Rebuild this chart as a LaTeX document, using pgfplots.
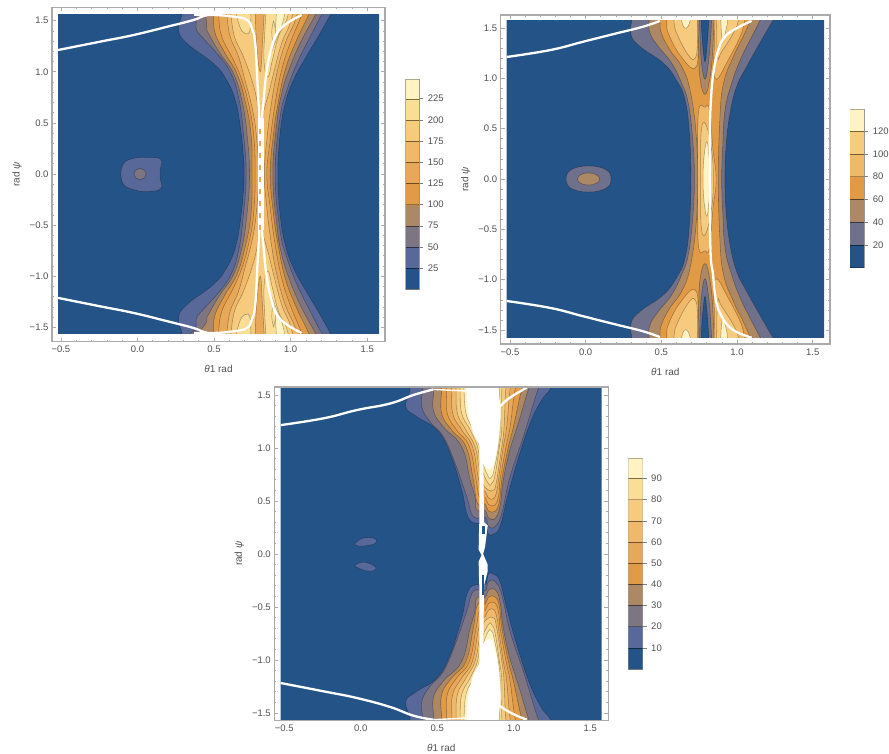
\documentclass[border=0pt]{standalone}
\usepackage{fontspec}
\setmainfont{Liberation Sans}
\usepackage{pgfplots}
\pgfplotsset{compat=1.18}
\definecolor{cA}{RGB}{36,84,135}
\definecolor{cB}{RGB}{88,104,152}
\definecolor{cC}{RGB}{125,117,130}
\definecolor{cD}{RGB}{172,136,100}
\definecolor{cE}{RGB}{225,155,70}
\definecolor{cF}{RGB}{232,168,90}
\definecolor{cG}{RGB}{240,185,105}
\definecolor{cH}{RGB}{246,203,125}
\definecolor{cI}{RGB}{251,222,150}
\definecolor{cJ}{RGB}{255,243,195}
\definecolor{cBb}{RGB}{110,112,140}
\definecolor{frameC}{RGB}{170,170,170}
\definecolor{txtC}{RGB}{80,80,80}
\pgfplotsset{
 /pgf/number format/assume math mode=true,
 frameax/.style={scale only axis,anchor=south west,axis line style={draw=frameC,line width=1.1pt},
   tick align=inside,major tick length=4pt,minor tick length=2pt,minor tick num=4,
   tick style={draw=frameC,line width=.6pt},
   tick label style={text=txtC,font=\fontsize{9.5}{11}\selectfont},
   xtick={-0.5,0,0.5,1,1.5},xticklabels={−0.5,0.0,0.5,1.0,1.5},
   ytick={-1.5,-1,-0.5,0,0.5,1,1.5},yticklabels={−1.5,−1.0,−0.5,0.0,0.5,1.0,1.5},
   xticklabel style={yshift=-1pt},
   every axis x label/.style={at={(axis description cs:0.5,0)},anchor=center,yshift=-27.5pt,text=txtC,font=\fontsize{10}{12}\selectfont},
   every axis y label/.style={at={(axis description cs:0,0.5)},anchor=center,rotate=90,yshift=35pt,text=txtC,font=\fontsize{10}{12}\selectfont},
   xlabel={{\itshape θ}1 rad},ylabel={rad {\itshape ψ}}},
 innerax/.style={scale only axis,anchor=south west,hide axis},
 barax/.style={scale only axis,anchor=south west,xmin=0,xmax=1,xtick=\empty,
   ytick pos=right,tick align=outside,major tick length=4pt,
   axis line style={draw=frameC,line width=.9pt},tick style={draw=gray,line width=.5pt},
   tick label style={text=txtC,font=\fontsize{9.5}{11}\selectfont},
   yticklabel style={xshift=1pt,/pgf/number format/assume math mode=true}},
 lvl/.style={smooth,tension=0.75,draw=black,draw opacity=.32,line width=.55pt},
 wht/.style={smooth,tension=0.75,draw=white,line width=2.3pt},
}
\newcommand{\lev}[2]{\addplot[lvl,fill=#1] coordinates {#2};}
\newcommand{\bnd}[3]{\addplot[draw=black,draw opacity=.3,line width=.4pt,fill=#1] coordinates {(0,#2)(1,#2)(1,#3)(0,#3)};}
\begin{document}
\begin{tikzpicture}
\path[use as bounding box] (0,0) rectangle (889pt,753pt);
%% ---------- panel 1 ----------
\begin{axis}[frameax,at={(52pt,411.3pt)},width=333pt,height=334.2pt,xmin=-0.558,xmax=1.616,ymin=-1.641,ymax=1.629]
\end{axis}
\begin{axis}[innerax,at={(58pt,419pt)},width=321pt,height=319pt,xmin=-0.52,xmax=1.575,ymin=-1.566,ymax=1.556]
\addplot[fill=cA,draw=none] coordinates {(-1,-2)(2,-2)(2,2)(-1,2)};
\lev{cB}{(.31,1.7)(.29,1.56)(.267,1.41)(.32,1.28)(.495,1.08)(.58,.92)(.637,.72)(.67,.46)(.69,.17)(.695,0)(.69,-.17)(.67,-.46)(.637,-.72)(.58,-.92)(.495,-1.08)(.32,-1.28)(.267,-1.41)(.29,-1.56)(.31,-1.7)(1.31,-1.7)(1.257,-1.556)(1.19,-1.376)(1.10,-1.148)(1.017,-.92)(.963,-.69)(.93,-.40)(.915,0)(.93,.40)(.963,.69)(1.017,.92)(1.10,1.148)(1.19,1.376)(1.257,1.556)(1.31,1.7)}
\lev{cC}{(.37,1.7)(.382,1.5)(.382,1.425)(.408,1.36)(.517,1.18)(.604,1.0)(.658,.757)(.69,.4)(.708,0)(.69,-.4)(.658,-.757)(.604,-1.0)(.517,-1.18)(.408,-1.36)(.382,-1.425)(.382,-1.5)(.37,-1.7)(1.26,-1.7)(1.2,-1.556)(1.126,-1.344)(1.04,-1.083)(.974,-.82)(.93,-.56)(.897,0)(.93,.56)(.974,.82)(1.04,1.083)(1.126,1.344)(1.2,1.556)(1.26,1.7)}
\lev{cD}{(.44,1.7)(.451,1.44)(.462,1.376)(.538,1.18)(.625,.985)(.68,.724)(.713,.4)(.73,0)(.713,-.4)(.68,-.724)(.625,-.985)(.538,-1.18)(.462,-1.376)(.451,-1.44)(.44,-1.7)(1.2,-1.7)(1.159,-1.556)(1.07,-1.31)(.995,-1.05)(.94,-.79)(.908,-.5)(.882,0)(.908,.5)(.94,.79)(.995,1.05)(1.07,1.31)(1.159,1.556)(1.2,1.7)}
\lev{cE}{(.49,1.7)(.495,1.55)(.506,1.376)(.571,1.18)(.647,.985)(.70,.724)(.739,.4)(.747,0)(.739,-.4)(.70,-.724)(.647,-.985)(.571,-1.18)(.506,-1.376)(.495,-1.55)(.49,-1.7)(1.15,-1.7)(1.115,-1.556)(1.028,-1.28)(.963,-1.02)(.92,-.724)(.887,-.4)(.865,0)(.887,.4)(.92,.724)(.963,1.02)(1.028,1.28)(1.115,1.556)(1.15,1.7)}
\lev{cF}{(.52,1.7)(.528,1.55)(.549,1.344)(.625,1.115)(.68,.92)(.723,.69)(.756,.4)(.767,0)(.756,-.4)(.723,-.69)(.68,-.92)(.625,-1.115)(.549,-1.344)(.528,-1.55)(.52,-1.7)(1.10,-1.7)(1.07,-1.556)(.995,-1.28)(.94,-1.02)(.897,-.69)(.865,-.33)(.843,0)(.865,.33)(.897,.69)(.94,1.02)(.995,1.28)(1.07,1.556)(1.10,1.7)}
\lev{cG}{(.57,1.7)(.582,1.55)(.604,1.344)(.658,1.15)(.70,.92)(.745,.66)(.773,.4)(.789,0)(.773,-.4)(.745,-.66)(.70,-.92)(.658,-1.15)(.604,-1.344)(.582,-1.55)(.57,-1.7)(1.06,-1.7)(1.028,-1.5)(.963,-1.28)(.908,-.985)(.87,-.66)(.843,-.33)(.826,0)(.843,.33)(.87,.66)(.908,.985)(.963,1.28)(1.028,1.5)(1.06,1.7)}
\lev{cH}{(.604,1.7)(.626,1.376)(.69,1.15)(.745,.92)(.778,.724)(.795,.53)(.843,.724)(.887,.985)(.94,1.28)(.995,1.474)(1.03,1.7)}
\lev{cH}{(.604,-1.7)(.626,-1.376)(.69,-1.15)(.745,-.92)(.778,-.724)(.795,-.53)(.843,-.724)(.887,-.985)(.94,-1.28)(.995,-1.474)(1.03,-1.7)}
\lev{cI}{(.63,1.7)(.66,1.47)(.70,1.376)(.735,1.425)(.735,1.7)}
\lev{cI}{(.63,-1.7)(.66,-1.47)(.70,-1.376)(.735,-1.425)(.735,-1.7)}
\lev{cI}{(.843,1.7)(.83,1.4)(.825,1.1)(.85,.95)(.88,1.12)(.92,1.35)(.97,1.5)(1.0,1.7)}
\lev{cI}{(.843,-1.7)(.83,-1.4)(.825,-1.1)(.85,-.95)(.88,-1.12)(.92,-1.35)(.97,-1.5)(1.0,-1.7)}
\lev{cJ}{(.905,1.7)(.9,1.45)(.87,1.2)(.9,1.3)(.95,1.5)(.97,1.7)}
\lev{cJ}{(.905,-1.7)(.9,-1.45)(.87,-1.2)(.9,-1.3)(.95,-1.5)(.97,-1.7)}
\lev{cI}{(.887,1.5)(.875,1.39)(.887,1.28)(.899,1.39)(.887,1.5)}
\lev{cI}{(.887,-1.5)(.875,-1.39)(.887,-1.28)(.899,-1.39)(.887,-1.5)}
\lev{cF}{(.765,1.7)(.775,1.3)(.80,1.0)(.815,1.3)(.83,1.7)}
\lev{cF}{(.765,-1.7)(.775,-1.3)(.80,-1.0)(.815,-1.3)(.83,-1.7)}
\lev{cB}{(-.11,0)(-.092,.104)(-.027,.153)(.06,.163)(.151,.143)(.147,.04)(.147,-.04)(.151,-.143)(.06,-.173)(-.027,-.153)(-.092,-.104)(-.11,0)}
\lev{cC}{(-.024,0)(-.012,.04)(.016,.055)(.044,.04)(.056,0)(.044,-.04)(.016,-.055)(-.012,-.04)(-.024,0)}
\addplot[wht] coordinates {(-.53,1.21)(-.245,1.295)(-.027,1.36)(.19,1.44)(.364,1.507)(.43,1.546)(.495,1.556)(.626,1.54)(.713,1.507)(.745,1.425)(.767,1.28)(.782,.887)(.795,.496)};
\addplot[wht] coordinates {(-.53,-1.21)(-.245,-1.295)(-.027,-1.36)(.19,-1.44)(.364,-1.507)(.43,-1.546)(.495,-1.556)(.626,-1.54)(.713,-1.507)(.745,-1.425)(.767,-1.28)(.782,-.887)(.795,-.496)};
\addplot[wht] coordinates {(1.07,1.556)(.974,1.474)(.908,1.376)(.876,1.246)(.843,1.02)(.822,.724)(.81,.53)};
\addplot[wht] coordinates {(1.07,-1.556)(.974,-1.474)(.908,-1.376)(.876,-1.246)(.843,-1.02)(.822,-.724)(.81,-.53)};
\addplot[draw=white,line width=3pt] coordinates {(.37,1.556)(.55,1.556)};
\addplot[draw=white,line width=3pt] coordinates {(.37,-1.56)(.55,-1.56)};
\addplot[draw=white,line width=6pt] coordinates {(.802,.55)(.802,-.55)};
\addplot[draw=cF,line width=1.6pt,dash pattern=on 5pt off 7pt] coordinates {(.798,.44)(.798,-.55)};
\end{axis}
\begin{axis}[barax,at={(405.7pt,463.7pt)},width=13.6pt,height=210.3pt,ymin=0,ymax=248.3,ytick={25,50,75,100,125,150,175,200,225}]
\bnd{cA}{0}{25}\bnd{cB}{25}{50}\bnd{cC}{50}{75}\bnd{cD}{75}{100}\bnd{cE}{100}{125}\bnd{cF}{125}{150}\bnd{cG}{150}{175}\bnd{cH}{175}{200}\bnd{cI}{200}{225}\bnd{cJ}{225}{248.3}
\end{axis}
%% ---------- panel 2 ----------
\begin{axis}[frameax,at={(500.7pt,409pt)},width=329.3pt,height=329pt,xmin=-0.561,xmax=1.614,ymin=-1.639,ymax=1.629]
\end{axis}
\begin{axis}[innerax,at={(506.7pt,415.3pt)},width=317.3pt,height=316.7pt,xmin=-0.522,xmax=1.574,ymin=-1.576,ymax=1.569]
\addplot[fill=cA,draw=none] coordinates {(-1,-2)(2,-2)(2,2)(-1,2)};
\lev{cBb}{(.31,1.7)(.304,1.58)(.30,1.43)(.359,1.315)(.513,1.15)(.60,.98)(.656,.785)(.685,.45)(.694,0)(.685,-.45)(.656,-.785)(.60,-.98)(.513,-1.15)(.359,-1.315)(.30,-1.43)(.304,-1.58)(.31,-1.7)(1.29,-1.7)(1.235,-1.57)(1.15,-1.35)(1.063,-1.116)(.997,-.917)(.953,-.652)(.927,-.32)(.92,0)(.927,.32)(.953,.652)(.997,.917)(1.063,1.116)(1.15,1.35)(1.235,1.57)(1.29,1.7)}
\lev{cD}{(.42,1.7)(.418,1.57)(.425,1.447)(.48,1.315)(.568,1.15)(.634,.95)(.678,.75)(.707,.387)(.718,0)(.707,-.387)(.678,-.75)(.634,-.95)(.568,-1.15)(.48,-1.315)(.425,-1.447)(.418,-1.57)(.42,-1.7)(1.19,-1.7)(1.15,-1.57)(1.085,-1.38)(1.02,-1.18)(.964,-.95)(.92,-.685)(.905,-.32)(.898,0)(.905,.32)(.92,.685)(.964,.95)(1.02,1.18)(1.085,1.38)(1.15,1.57)(1.19,1.7)}
\lev{cE}{(.485,1.7)(.49,1.57)(.5,1.447)(.557,1.28)(.634,1.116)(.689,.884)(.729,.454)(.738,0)(.729,-.454)(.689,-.884)(.634,-1.116)(.557,-1.28)(.5,-1.447)(.49,-1.57)(.485,-1.7)(1.11,-1.7)(1.085,-1.57)(1.04,-1.414)(.975,-1.215)(.91,-.95)(.887,-.62)(.876,0)(.887,.62)(.91,.95)(.975,1.215)(1.04,1.414)(1.085,1.57)(1.11,1.7)}
\lev{cG}{(.53,1.7)(.535,1.57)(.546,1.447)(.623,1.23)(.722,1.1)(.744,1.35)(.744,1.7)}
\lev{cG}{(.53,-1.7)(.535,-1.57)(.546,-1.447)(.623,-1.23)(.722,-1.1)(.744,-1.35)(.744,-1.7)}
\lev{cG}{(.845,1.7)(.85,1.35)(.845,1.12)(.865,.99)(.93,1.15)(1.02,1.414)(1.05,1.57)(1.08,1.7)}
\lev{cG}{(.845,-1.7)(.85,-1.35)(.845,-1.12)(.865,-.99)(.93,-1.15)(1.02,-1.414)(1.05,-1.57)(1.08,-1.7)}
\lev{cG}{(.74,0)(.744,.652)(.788,.712)(.817,.685)(.84,.3)(.861,0)(.84,-.3)(.817,-.685)(.788,-.712)(.744,-.652)(.74,0)}
\lev{cH}{(.58,1.7)(.583,1.57)(.601,1.447)(.678,1.23)(.722,1.2)(.738,1.35)(.738,1.7)}
\lev{cH}{(.58,-1.7)(.583,-1.57)(.601,-1.447)(.678,-1.23)(.722,-1.2)(.738,-1.35)(.738,-1.7)}
\lev{cH}{(.865,1.7)(.865,1.57)(.872,1.215)(.898,1.265)(.975,1.447)(1.008,1.57)(1.02,1.7)}
\lev{cH}{(.865,-1.7)(.865,-1.57)(.872,-1.215)(.898,-1.265)(.975,-1.447)(1.008,-1.57)(1.02,-1.7)}
\lev{cH}{(.76,0)(.762,.45)(.79,.55)(.83,.3)(.843,0)(.83,-.3)(.79,-.55)(.762,-.45)(.76,0)}
\lev{cJ}{(.63,1.7)(.634,1.57)(.66,1.497)(.689,1.57)(.69,1.7)}
\lev{cJ}{(.63,-1.7)(.634,-1.57)(.66,-1.497)(.689,-1.57)(.69,-1.7)}
\lev{cJ}{(.89,1.7)(.892,1.57)(.905,1.38)(.931,1.513)(.936,1.57)(.94,1.7)}
\lev{cJ}{(.89,-1.7)(.892,-1.57)(.905,-1.38)(.931,-1.513)(.936,-1.57)(.94,-1.7)}
\lev{cJ}{(.775,0)(.78,.2)(.80,.37)(.815,.2)(.827,0)(.815,-.2)(.80,-.37)(.78,-.2)(.775,0)}
\lev{cD}{(.74,1.7)(.745,1.3)(.755,1.0)(.788,.84)(.82,1.0)(.84,1.3)(.848,1.7)}
\lev{cD}{(.74,-1.7)(.745,-1.3)(.755,-1.0)(.788,-.84)(.82,-1.0)(.84,-1.3)(.848,-1.7)}
\lev{cBb}{(.75,1.7)(.755,1.4)(.765,1.15)(.788,.99)(.81,1.15)(.825,1.4)(.835,1.7)}
\lev{cBb}{(.75,-1.7)(.755,-1.4)(.765,-1.15)(.788,-.99)(.81,-1.15)(.825,-1.4)(.835,-1.7)}
\lev{cA}{(.762,1.7)(.765,1.5)(.775,1.3)(.788,1.165)(.80,1.3)(.81,1.5)(.82,1.7)}
\lev{cA}{(.762,-1.7)(.765,-1.5)(.775,-1.3)(.788,-1.165)(.80,-1.3)(.81,-1.5)(.82,-1.7)}
\lev{cBb}{(-.13,0)(-.10,.09)(.018,.13)(.136,.09)(.166,0)(.136,-.09)(.018,-.13)(-.10,-.09)(-.13,0)}
\lev{cD}{(-.056,0)(-.035,.042)(.018,.06)(.071,.042)(.092,0)(.071,-.042)(.018,-.06)(-.035,-.042)(-.056,0)}
\addplot[wht] coordinates {(-.53,1.21)(-.236,1.28)(-.015,1.364)(.205,1.447)(.38,1.513)(.49,1.57)};
\addplot[wht] coordinates {(-.53,-1.21)(-.236,-1.28)(-.015,-1.364)(.205,-1.447)(.38,-1.513)(.49,-1.57)};
\addplot[wht] coordinates {(1.096,1.57)(.997,1.497)(.92,1.414)(.876,1.28)(.843,1.05)(.826,.75)(.82,.454)(.82,0)(.824,-.705)(.84,-.937)(.86,-1.2)(.90,-1.37)(.975,-1.5)(1.096,-1.576)};
\end{axis}
\begin{axis}[barax,at={(850pt,485.3pt)},width=14.3pt,height=158.7pt,ymin=0,ymax=139.4,ytick={20,40,60,80,100,120}]
\bnd{cA}{0}{20}\bnd{cBb}{20}{40}\bnd{cD}{40}{60}\bnd{cE}{60}{80}\bnd{cG}{80}{100}\bnd{cH}{100}{120}\bnd{cJ}{120}{139.4}
\end{axis}
%% ---------- panel 3 ----------
\begin{axis}[frameax,at={(274.3pt,32.7pt)},width=334pt,height=333.3pt,xmin=-0.565,xmax=1.618,ymin=-1.569,ymax=1.575,major tick length=4pt]
\end{axis}
\begin{axis}[innerax,at={(280.7pt,33.3pt)},width=321pt,height=330.7pt,xmin=-0.523,xmax=1.575,ymin=-1.563,ymax=1.557]
\addplot[fill=cA,draw=none] coordinates {(-1,-2)(2,-2)(2,2)(-1,2)};
% upper half
\lev{cB}{(.32,1.7)(.322,1.547)(.294,1.39)(.366,1.296)(.497,1.17)(.584,.95)(.66,.604)(.693,.384)(.736,.296)(.813,.289)(.834,.189)(.867,.189)(.91,.258)(.954,.51)(1.02,.855)(1.107,1.233)(1.183,1.453)(1.237,1.553)(1.28,1.7)}
\lev{cC}{(.41,1.7)(.405,1.547)(.399,1.39)(.453,1.248)(.54,1.107)(.617,.855)(.693,.54)(.736,.352)(.813,.346)(.834,.264)(.878,.258)(.922,.384)(.976,.73)(1.063,1.107)(1.15,1.516)(1.2,1.7)}
\lev{cD}{(.48,1.7)(.479,1.553)(.475,1.358)(.54,1.2)(.66,1.013)(.715,.70)(.747,.54)(.758,.415)(.813,.409)(.834,.343)(.878,.336)(.91,.447)(.932,.70)(.98,1.013)(1.03,1.233)(1.096,1.553)(1.14,1.7)}
\lev{cE}{(.53,1.7)(.529,1.553)(.529,1.327)(.595,1.17)(.688,1.013)(.736,.70)(.763,.478)(.813,.472)(.834,.409)(.878,.403)(.906,.494)(.922,.70)(.965,1.013)(.998,1.2)(1.052,1.553)(1.09,1.7)}
\lev{cF}{(.56,1.7)(.562,1.553)(.566,1.327)(.627,1.17)(.71,1.013)(.754,.70)(.776,.541)(.813,.535)(.834,.469)(.878,.462)(.902,.557)(.911,.70)(.95,1.013)(.976,1.2)(1.009,1.553)(1.04,1.7)}
\lev{cG}{(.59,1.7)(.595,1.553)(.601,1.327)(.66,1.17)(.73,1.013)(.767,.73)(.791,.604)(.813,.594)(.834,.531)(.871,.525)(.893,.62)(.90,.70)(.932,1.013)(.954,1.2)(.976,1.553)(1.0,1.7)}
\lev{cH}{(.62,1.7)(.623,1.553)(.632,1.327)(.688,1.17)(.747,1.013)(.776,.792)(.797,.667)(.834,.604)(.867,.604)(.885,.667)(.922,1.013)(.937,1.2)(.948,1.553)(.97,1.7)}
\lev{cI}{(.645,1.7)(.649,1.553)(.66,1.327)(.715,1.17)(.763,1.013)(.784,.824)(.834,.667)(.856,.667)(.878,.745)(.906,1.013)(.922,1.2)(.922,1.553)(.94,1.7)}
\lev{cJ}{(.67,1.7)(.675,1.553)(.688,1.327)(.736,1.17)(.776,1.013)(.791,.887)(.834,.73)(.856,.73)(.871,.792)(.90,1.013)(.911,1.2)(.906,1.553)(.92,1.7)}
\addplot[fill=white,draw=none,smooth,tension=.5] coordinates {(.695,1.7)(.693,1.553)(.704,1.327)(.736,1.138)(.78,1.013)(.80,.85)(.856,.808)(.893,1.013)(.915,1.327)(.90,1.553)(.90,1.7)};
% lower half
\lev{cB}{(.32,-1.7)(.322,-1.547)(.294,-1.39)(.366,-1.296)(.497,-1.17)(.584,-.95)(.66,-.604)(.693,-.384)(.736,-.296)(.813,-.289)(.834,-.189)(.867,-.189)(.91,-.258)(.954,-.51)(1.02,-.855)(1.107,-1.233)(1.183,-1.453)(1.237,-1.553)(1.28,-1.7)}
\lev{cC}{(.41,-1.7)(.405,-1.547)(.399,-1.39)(.453,-1.248)(.54,-1.107)(.617,-.855)(.693,-.54)(.736,-.352)(.813,-.346)(.834,-.264)(.878,-.258)(.922,-.384)(.976,-.73)(1.063,-1.107)(1.15,-1.516)(1.2,-1.7)}
\lev{cD}{(.48,-1.7)(.479,-1.553)(.475,-1.358)(.54,-1.2)(.66,-1.013)(.715,-.70)(.747,-.54)(.758,-.415)(.813,-.409)(.834,-.343)(.878,-.336)(.91,-.447)(.932,-.70)(.98,-1.013)(1.03,-1.233)(1.096,-1.553)(1.14,-1.7)}
\lev{cE}{(.53,-1.7)(.529,-1.553)(.529,-1.327)(.595,-1.17)(.688,-1.013)(.736,-.70)(.763,-.478)(.813,-.472)(.834,-.409)(.878,-.403)(.906,-.494)(.922,-.70)(.965,-1.013)(.998,-1.2)(1.052,-1.553)(1.09,-1.7)}
\lev{cF}{(.56,-1.7)(.562,-1.553)(.566,-1.327)(.627,-1.17)(.71,-1.013)(.754,-.70)(.776,-.541)(.813,-.535)(.834,-.469)(.878,-.462)(.902,-.557)(.911,-.70)(.95,-1.013)(.976,-1.2)(1.009,-1.553)(1.04,-1.7)}
\lev{cG}{(.59,-1.7)(.595,-1.553)(.601,-1.327)(.66,-1.17)(.73,-1.013)(.767,-.73)(.791,-.604)(.813,-.594)(.834,-.531)(.871,-.525)(.893,-.62)(.90,-.70)(.932,-1.013)(.954,-1.2)(.976,-1.553)(1.0,-1.7)}
\lev{cH}{(.62,-1.7)(.623,-1.553)(.632,-1.327)(.688,-1.17)(.747,-1.013)(.776,-.792)(.797,-.667)(.834,-.604)(.867,-.604)(.885,-.667)(.922,-1.013)(.937,-1.2)(.948,-1.553)(.97,-1.7)}
\lev{cI}{(.645,-1.7)(.649,-1.553)(.66,-1.327)(.715,-1.17)(.763,-1.013)(.784,-.824)(.834,-.667)(.856,-.667)(.878,-.745)(.906,-1.013)(.922,-1.2)(.922,-1.553)(.94,-1.7)}
\lev{cJ}{(.67,-1.7)(.675,-1.553)(.688,-1.327)(.736,-1.17)(.776,-1.013)(.791,-.887)(.834,-.73)(.856,-.73)(.871,-.792)(.90,-1.013)(.911,-1.2)(.906,-1.553)(.92,-1.7)}
\addplot[fill=white,draw=none,smooth,tension=.5] coordinates {(.695,-1.7)(.693,-1.553)(.704,-1.327)(.736,-1.138)(.78,-1.013)(.80,-.85)(.856,-.808)(.893,-1.013)(.915,-1.327)(.90,-1.553)(.90,-1.7)};
% centre stripe
\addplot[fill=white,draw=none] coordinates {(.775,1.05)(.775,.30)(.772,.15)(.771,.04)(.79,-.01)(.771,-.07)(.772,-.18)(.775,-.30)(.775,-1.05)(.80,-1.05)(.806,-.30)(.83,-.16)(.83,-.10)(.80,0)(.813,.07)(.83,.27)(.806,.30)(.80,1.05)};
\addplot[fill=cA,draw=none] coordinates {(.79,.26)(.81,.26)(.81,.19)(.79,.19)};
\addplot[fill=cA,draw=none] coordinates {(.79,-.195)(.806,-.195)(.806,-.384)(.79,-.384)};
\lev{cB}{(-.041,.094)(-.004,.138)(.05,.157)(.10,.138)(.094,.10)(.039,.079)(-.015,.075)(-.041,.094)}
\lev{cB}{(-.041,-.11)(-.004,-.08)(.05,-.085)(.10,-.132)(.061,-.164)(-.004,-.14)(-.041,-.11)}
\addplot[wht] coordinates {(-.53,1.215)(-.244,1.28)(-.026,1.358)(.192,1.42)(.344,1.5)(.475,1.553)};
\addplot[wht] coordinates {(-.53,-1.215)(-.244,-1.295)(-.026,-1.358)(.192,-1.443)(.344,-1.525)(.475,-1.563)};
\addplot[draw=white,line width=1.4pt] coordinates {(.475,1.553)(.693,1.538)};
\addplot[draw=white,line width=1.4pt] coordinates {(.475,-1.563)(.693,-1.547)};
\addplot[wht] coordinates {(.91,1.39)(.97,1.47)(1.085,1.57)};
\addplot[wht] coordinates {(.868,-1.39)(.97,-1.49)(1.085,-1.563)};
\end{axis}
\begin{axis}[barax,at={(628.3pt,84pt)},width=14.4pt,height=210.7pt,ymin=0,ymax=99.5,ytick={10,20,30,40,50,60,70,80,90}]
\bnd{cA}{0}{10}\bnd{cB}{10}{20}\bnd{cC}{20}{30}\bnd{cD}{30}{40}\bnd{cE}{40}{50}\bnd{cF}{50}{60}\bnd{cG}{60}{70}\bnd{cH}{70}{80}\bnd{cI}{80}{90}\bnd{cJ}{90}{99.5}
\end{axis}
\end{tikzpicture}
\end{document}
